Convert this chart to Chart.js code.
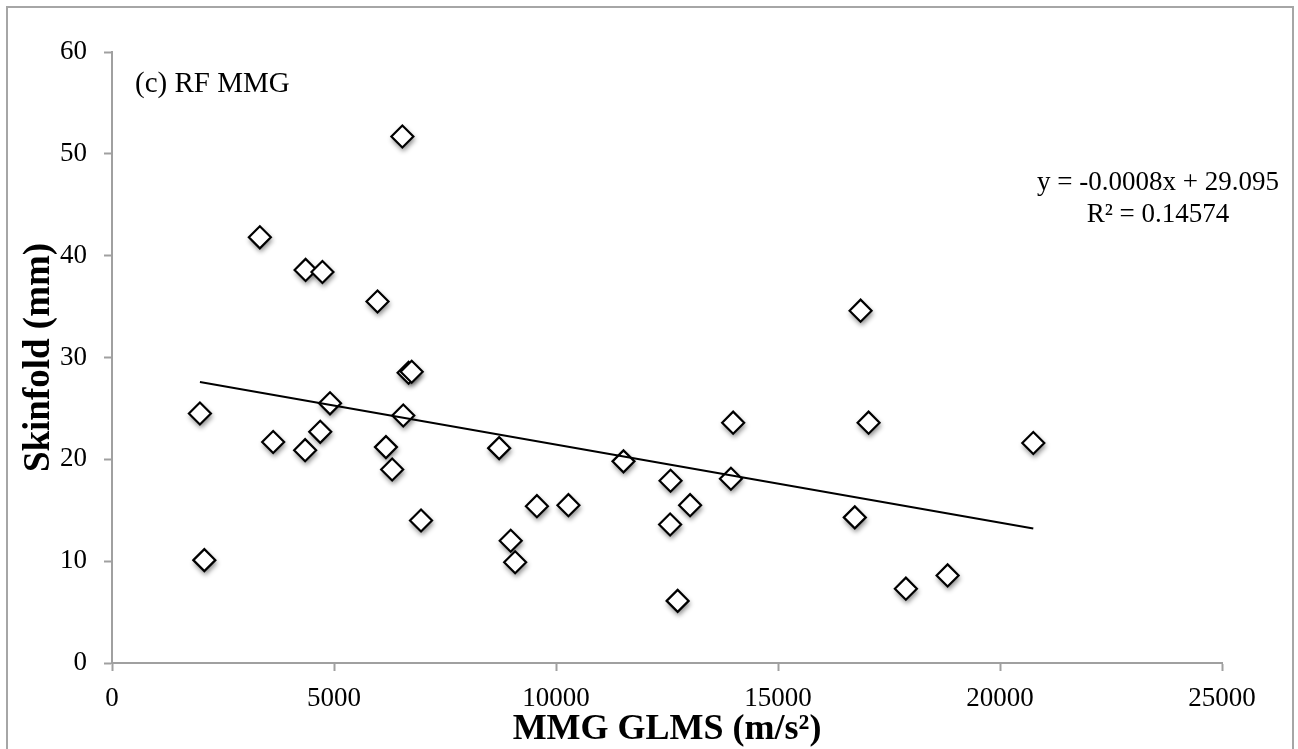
<!DOCTYPE html>
<html>
<head>
<meta charset="utf-8">
<script src="https://cdn.jsdelivr.net/npm/chart.js@4"></script>
<style>
  html, body { margin: 0; padding: 0; background: #fff; overflow: hidden; }
  #frame { position: absolute; left: 6px; top: 6px; width: 1284px; height: 760px; border: 2px solid #a6a6a6; }
  #chart { position: absolute; left: 0; top: 0; }
</style>
</head>
<body>
<div id="frame"></div>
<canvas id="chart" width="1298" height="749"></canvas>
<script>
// MMG GLMS (m/s^2) vs skinfold (mm)
const glmsX = [1980, 2080, 3330, 3630, 4360, 4350, 4740, 4690, 4910, 5980,
               6170, 6310, 6540, 6560, 6680, 6750, 6960, 8720, 8980, 9080,
               9570, 10280, 11520, 12580, 12570, 12740, 13020, 13940, 13990, 16730,
               16860, 17040, 17880, 18820, 20750];
const skinfoldY = [24.5, 10.1, 41.8, 21.7, 38.6, 20.9, 38.4, 22.7, 25.5, 35.5,
                   21.2, 19.0, 51.7, 24.3, 28.5, 28.6, 14.0, 21.1, 12.0, 9.9,
                   15.4, 15.5, 19.8, 17.9, 13.6, 6.1, 15.5, 18.1, 23.6, 14.3,
                   34.6, 23.6, 7.3, 8.6, 21.6];

// linear trendline end points
const trendX = [1980, 20750];
const trendY = [27.6, 13.2];

const xTicks = [0, 5000, 10000, 15000, 20000, 25000];
const yTicks = [0, 10, 20, 30, 40, 50, 60];

const panelLabel = '(c) RF MMG';
const eqLines = ['y = -0.0008x + 29.095', 'R\u00b2 = 0.14574'];

const AXIS_GREY = '#a0a0a0';
const SERIF = "'Liberation Serif', 'Times New Roman', serif";
const MARKER_R = 11;

// soft drop shadow under the diamonds, drawn from the point elements
const markerShadow = {
  id: 'markerShadow',
  beforeDatasetDraw(chart, args) {
    if (args.index !== 1) return;
    const ctx = chart.ctx;
    ctx.save();
    ctx.shadowColor = 'rgba(0,0,0,0.45)';
    ctx.shadowBlur = 5;
    ctx.shadowOffsetX = 1;
    ctx.shadowOffsetY = 3;
    ctx.fillStyle = '#fff';
    args.meta.data.forEach(pt => {
      const r = MARKER_R + 1;
      ctx.beginPath();
      ctx.moveTo(pt.x - r, pt.y);
      ctx.lineTo(pt.x, pt.y - r);
      ctx.lineTo(pt.x + r, pt.y);
      ctx.lineTo(pt.x, pt.y + r);
      ctx.closePath();
      ctx.fill();
    });
    ctx.restore();
  },
};

const annotations = {
  id: 'annotations',
  afterDraw(chart) {
    const ctx = chart.ctx;
    ctx.save();
    ctx.fillStyle = '#000';
    ctx.textBaseline = 'alphabetic';
    ctx.font = '29px ' + SERIF;
    ctx.textAlign = 'left';
    ctx.fillText(panelLabel, 135, 92);
    ctx.font = '27px ' + SERIF;
    ctx.textAlign = 'center';
    ctx.fillText(eqLines[0], 1158, 190);
    ctx.fillText(eqLines[1], 1158, 222);
    ctx.restore();
  },
};

const ctx = document.getElementById('chart');
new Chart(ctx, {
  type: 'scatter',
  data: {
    datasets: [
      {
        label: 'Linear fit',
        type: 'line',
        data: trendX.map((x, i) => ({ x, y: trendY[i] })),
        borderColor: '#000',
        borderWidth: 2,
        pointRadius: 0,
        fill: false,
        order: 0,
      },
      {
        label: 'Skinfold',
        data: glmsX.map((x, i) => ({ x, y: skinfoldY[i] })),
        pointStyle: 'rectRot',
        pointRadius: MARKER_R,
        pointBackgroundColor: '#fff',
        pointBorderColor: '#000',
        pointBorderWidth: 2.2,
        clip: false,
        order: 1,
      },
    ],
  },
  options: {
    responsive: false,
    animation: false,
    layout: { padding: { left: 0, top: 52, right: 76, bottom: 0 } },
    plugins: {
      legend: { display: false },
      tooltip: { enabled: false },
    },
    scales: {
      x: {
        type: 'linear',
        min: 0,
        max: 25000,
        afterBuildTicks: s => { s.ticks = xTicks.map(v => ({ value: v })); },
        afterFit: s => { s.height = 86; },
        border: { color: AXIS_GREY, width: 2 },
        grid: { drawOnChartArea: false, drawTicks: true, tickLength: 8, tickColor: AXIS_GREY, tickWidth: 2 },
        ticks: {
          color: '#000',
          padding: 12,
          maxRotation: 0,
          font: { family: SERIF, size: 27 },
          callback: v => String(v),
        },
        title: {
          display: true,
          text: 'MMG GLMS (m/s\u00b2)',
          color: '#000',
          font: { family: SERIF, size: 36, weight: 'bold', lineHeight: 1 },
          padding: { top: 0, bottom: 1 },
        },
      },
      y: {
        type: 'linear',
        min: 0,
        max: 60,
        afterBuildTicks: s => { s.ticks = yTicks.map(v => ({ value: v })); },
        afterFit: s => { s.width = 112; },
        border: { color: AXIS_GREY, width: 2 },
        grid: { drawOnChartArea: false, drawTicks: true, tickLength: 8, tickColor: AXIS_GREY, tickWidth: 2 },
        ticks: { color: '#000', padding: 17, font: { family: SERIF, size: 27 }, callback: v => String(v) },
        title: {
          display: true,
          text: 'Skinfold (mm)',
          color: '#000',
          font: { family: SERIF, size: 37, weight: 'bold', lineHeight: 1 },
          padding: { top: 21, bottom: 0 },
        },
      },
    },
  },
  plugins: [markerShadow, annotations],
});
</script>
</body>
</html>
